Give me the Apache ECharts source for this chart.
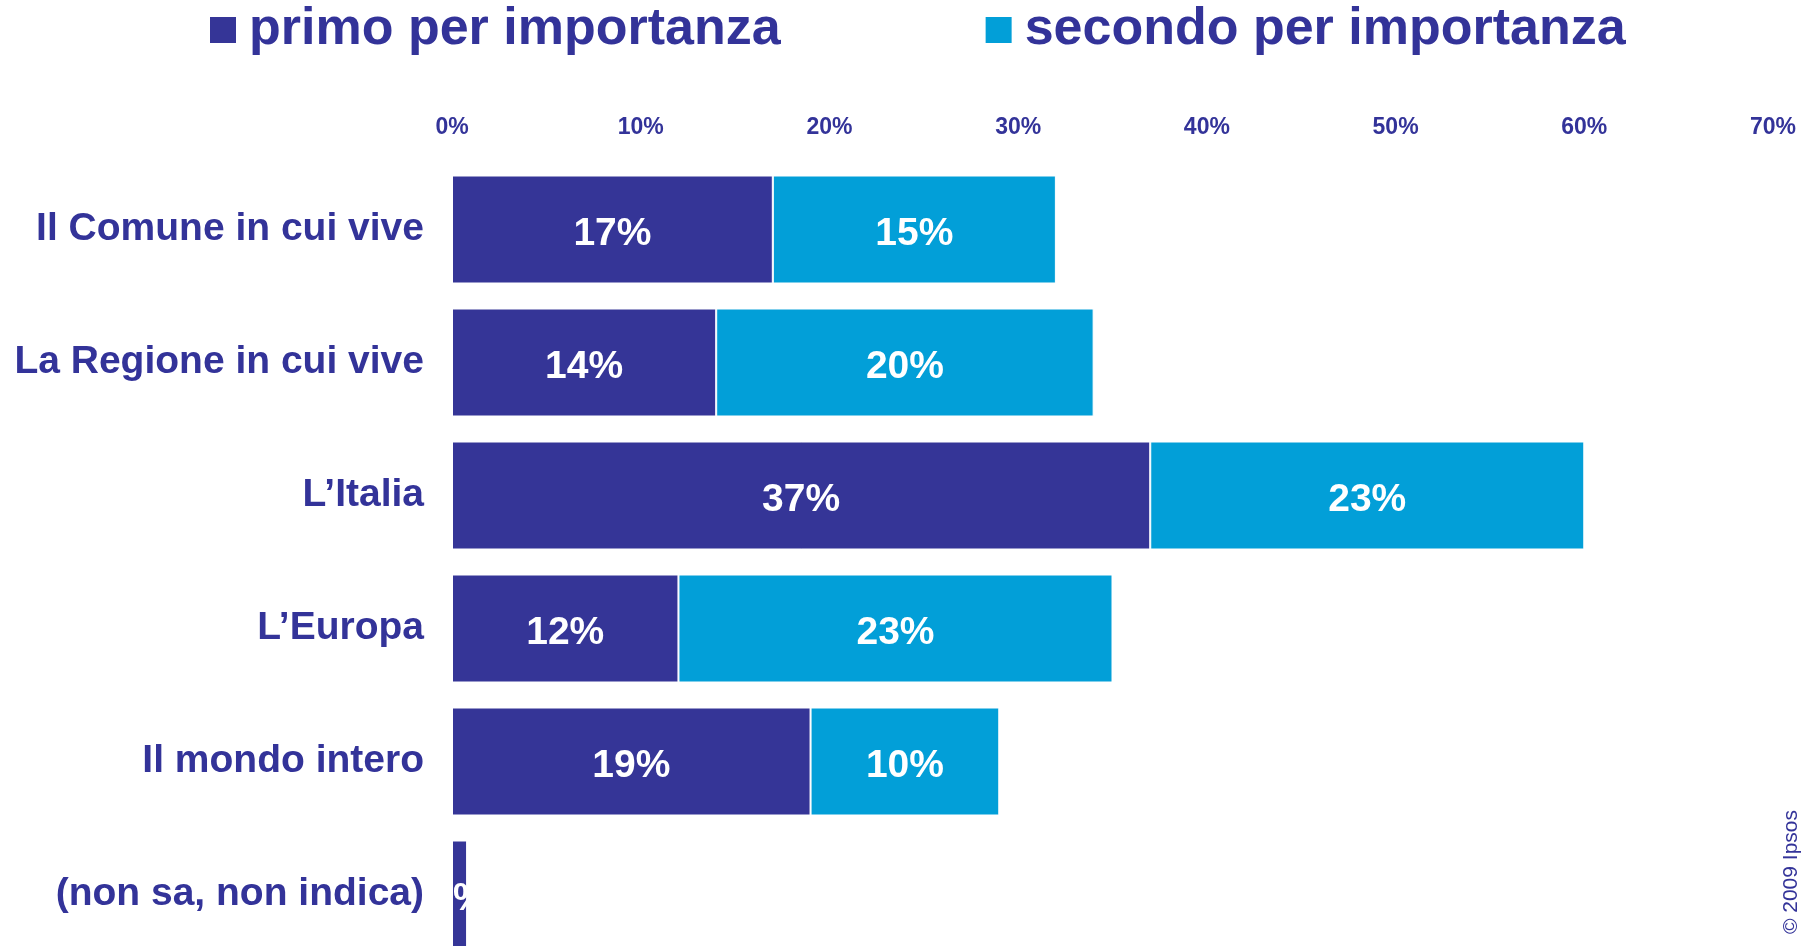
<!DOCTYPE html>
<html>
<head>
<meta charset="utf-8">
<script src="https://cdn.jsdelivr.net/npm/echarts@6/dist/echarts.min.js"></script>
<style>html,body{margin:0;padding:0;background:#fff}#c{width:1816px;height:946px}</style>
</head>
<body>
<div id="c"></div>
<script>
const categories = ['Il Comune in cui vive', 'La Regione in cui vive', 'L\u2019Italia', 'L\u2019Europa', 'Il mondo intero', '(non sa, non indica)'];
const seriesNames = ['primo per importanza', 'secondo per importanza'];
const primo = [17, 14, 37, 12, 19, 0.8];
const secondo = [15, 20, 23, 23, 10, null];
const xTicks = [0, 10, 20, 30, 40, 50, 60, 70];

const FONT = '"Liberation Sans", Arial, sans-serif';
const TXT = '#333399';
const chart = echarts.init(document.getElementById('c'));
const lbl = {
  show: true, position: 'inside', offset: [0, 5], color: '#fff', fontFamily: FONT, fontWeight: 'bold', fontSize: 39,
  formatter: p => Math.round(p.value) + '%'
};
chart.setOption({
  animation: false,
  backgroundColor: '#fff',
  legend: {
    left: 210, top: 4, padding: 0, itemWidth: 26, itemHeight: 26, itemGap: 205,
    icon: 'rect', itemStyle: { borderWidth: 0 },
    textStyle: { color: TXT, fontFamily: FONT, fontWeight: 'bold', fontSize: 52, padding: [0, 0, 0, 8] },
    data: seriesNames
  },
  grid: { left: 452, right: 43, top: 163, height: 798, outerBoundsMode: 'none', containLabel: false },
  xAxis: {
    type: 'value', position: 'top', min: 0, max: 70, interval: 10,
    axisLine: { show: false }, axisTick: { show: false }, splitLine: { show: false },
    axisLabel: { margin: 24, color: TXT, fontFamily: FONT, fontWeight: 'bold', fontSize: 23,
      formatter: v => xTicks.includes(v) ? v + '%' : '' }
  },
  yAxis: {
    type: 'category', inverse: true, data: categories,
    axisLine: { show: false }, axisTick: { show: false },
    axisLabel: { margin: 28, padding: [7, 0, 0, 0], color: TXT, fontFamily: FONT, fontWeight: 'bold', fontSize: 39 }
  },
  series: [
    { name: seriesNames[0], type: 'bar', stack: 's', data: primo, barWidth: 108,
      itemStyle: { color: '#353597', borderColor: '#fff', borderWidth: 1 }, label: lbl },
    { name: seriesNames[1], type: 'bar', stack: 's', data: secondo, barWidth: 108,
      itemStyle: { color: '#029fd8', borderColor: '#fff', borderWidth: 1 }, label: lbl }
  ],
  graphic: [{
    type: 'text', left: 1781, top: 810, rotation: Math.PI / 2,
    style: { text: '\u00a9 2009 Ipsos', fill: TXT, font: '21px ' + FONT }
  }]
});
</script>
</body>
</html>
